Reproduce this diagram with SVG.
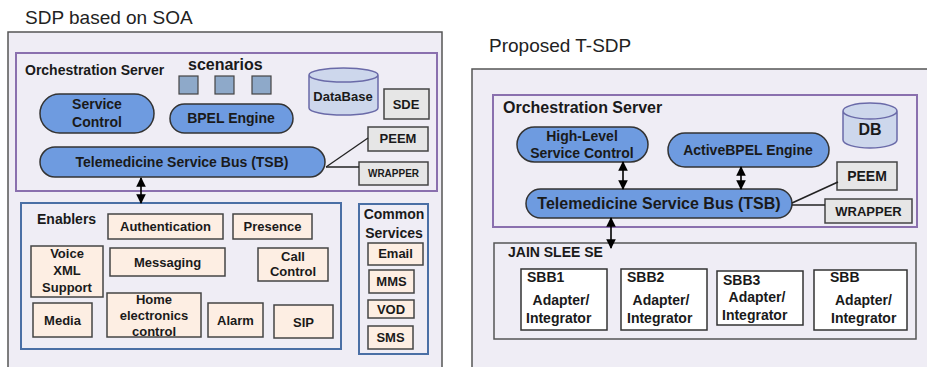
<svg xmlns="http://www.w3.org/2000/svg" width="927" height="367" viewBox="0 0 927 367">
<defs>
<marker id="ah" viewBox="0 0 10 10" refX="9" refY="5" markerWidth="6" markerHeight="6" orient="auto-start-reverse" markerUnits="strokeWidth">
<path d="M0,0 L10,5 L0,10 z" fill="#000"/>
</marker>
<style>
text{font-family:"Liberation Sans",Arial,sans-serif;fill:#1a1a1a}
.b{font-weight:bold}
.t{font-size:19px;fill:#222}
.f13{font-size:13px}
.f14{font-size:14px}
.f16{font-size:16px}
.f10{font-size:10px}
.m{text-anchor:middle}
.outer{fill:#efedf5;stroke:#555;stroke-width:1.5}
.orch{fill:none;stroke:#8a70ae;stroke-width:2}
.pill{fill:#6e9be0;stroke:#333;stroke-width:1.5}
.sq{fill:#8ea9c9;stroke:#444;stroke-width:1.2}
.cyl{fill:#cdd7ec;stroke:#6a6aa8;stroke-width:1.5}
.gray{fill:#e6e6e6;stroke:#444;stroke-width:1.5}
.blue{fill:none;stroke:#4a6fa5;stroke-width:2}
.peach{fill:#fdeee3;stroke:#444;stroke-width:1.5}
.white{fill:#fff;stroke:#333;stroke-width:1.5}
.jain{fill:none;stroke:#555;stroke-width:1.5}
.ln{stroke:#222;stroke-width:1.3;fill:none}
.arr{stroke:#000;stroke-width:1.6;fill:none;marker-start:url(#ah);marker-end:url(#ah)}
</style>
</defs>
<rect width="927" height="367" fill="#fff"/>

<!-- LEFT PANEL -->
<text class="t" x="25" y="24">SDP based on SOA</text>
<g id="left-panel">
<rect class="outer" x="8" y="32" width="434" height="345"/>
</g>
<g id="orch-left">
<rect class="orch" x="16" y="53" width="421" height="138"/>
<text class="b f14" x="25" y="75">Orchestration Server</text>
</g>
<g id="scenarios">
<text class="b f16" x="188" y="70">scenarios</text>
<rect class="sq" x="179" y="76" width="19" height="18"/>
<rect class="sq" x="215" y="76" width="19" height="18"/>
<rect class="sq" x="252" y="76" width="19" height="18"/>
</g>
<g id="service-control">
<rect class="pill" x="40" y="94" width="114" height="39" rx="19.5"/>
<text class="b f14 m" x="97" y="109">Service</text>
<text class="b f14 m" x="97" y="127">Control</text>
</g>
<g id="bpel-engine">
<rect class="pill" x="170" y="104" width="123" height="29" rx="14.5"/>
<text class="b f14 m" x="231" y="123">BPEL Engine</text>
</g>
<g id="database">
<path class="cyl" d="M309,75 L309,108 A34.5,7 0 0 0 378,108 L378,75 A34.5,7 0 0 0 309,75 A34.5,7 0 0 0 378,75"/>
<text class="b f13 m" x="343" y="101">DataBase</text>
</g>
<g id="sde">
<rect class="gray" x="384" y="89" width="45" height="30"/>
<text class="b f13 m" x="406" y="109">SDE</text>
</g>
<g id="peem-left">
<rect class="gray" x="368" y="127" width="60" height="24"/>
<text class="b f13 m" x="398" y="143">PEEM</text>
</g>
<g id="wrapper-left">
<rect class="gray" x="359" y="162" width="69" height="23"/>
<text class="b f10 m" x="393.5" y="177">WRAPPER</text>
</g>
<g id="tsb-left">
<rect class="pill" x="40" y="147" width="285" height="30" rx="15"/>
<text class="b f14 m" x="182" y="167">Telemedicine Service Bus (TSB)</text>
</g>
<g id="enablers">
<rect class="blue" x="21" y="203" width="320" height="146"/>
<text class="b f14" x="37" y="224">Enablers</text>
</g>
<g id="authentication"><rect class="peach" x="108" y="214" width="115" height="25"/><text class="b f13 m" x="165.5" y="231">Authentication</text></g>
<g id="presence"><rect class="peach" x="233" y="214" width="79" height="25"/><text class="b f13 m" x="272.5" y="231">Presence</text></g>
<g id="voicexml"><rect class="peach" x="31" y="246" width="72" height="51"/>
<text class="b f13 m" x="67" y="258">Voice</text><text class="b f13 m" x="67" y="275">XML</text><text class="b f13 m" x="67" y="292">Support</text></g>
<g id="messaging"><rect class="peach" x="110" y="248" width="115" height="28"/><text class="b f13 m" x="167.5" y="267">Messaging</text></g>
<g id="callcontrol"><rect class="peach" x="258" y="248" width="70" height="33"/>
<text class="b f13 m" x="293" y="261">Call</text><text class="b f13 m" x="293" y="276">Control</text></g>
<g id="media"><rect class="peach" x="33" y="303" width="59" height="34"/><text class="b f13 m" x="62.5" y="325">Media</text></g>
<g id="home"><rect class="peach" x="107" y="293" width="94" height="44"/>
<text class="b f13 m" x="154" y="304">Home</text><text class="b f13 m" x="154" y="320">electronics</text><text class="b f13 m" x="154" y="336">control</text></g>
<g id="alarm"><rect class="peach" x="208" y="303" width="55" height="34"/><text class="b f13 m" x="235.5" y="325">Alarm</text></g>
<g id="sip"><rect class="peach" x="274" y="305" width="59" height="33"/><text class="b f13 m" x="303.5" y="327">SIP</text></g>
<g id="common-services">
<rect class="blue" x="359" y="204" width="69" height="150"/>
<text class="b f14 m" x="394" y="219">Common</text>
<text class="b f14 m" x="394" y="238">Services</text>
</g>
<g id="email"><rect class="peach" x="368" y="243" width="55" height="22"/><text class="b f13 m" x="395.5" y="258">Email</text></g>
<g id="mms"><rect class="peach" x="369" y="270" width="45" height="23"/><text class="b f13 m" x="391.5" y="286">MMS</text></g>
<g id="vod"><rect class="peach" x="368" y="300" width="46" height="18"/><text class="b f13 m" x="391" y="314">VOD</text></g>
<g id="sms"><rect class="peach" x="368" y="326" width="45" height="23"/><text class="b f13 m" x="390.5" y="342">SMS</text></g>

<!-- RIGHT PANEL -->
<text class="t" x="489" y="52">Proposed T-SDP</text>
<g id="right-panel">
<rect class="outer" x="472" y="69" width="470" height="310"/>
</g>
<g id="orch-right">
<rect class="orch" x="493" y="95" width="424" height="132"/>
<text class="b f16" x="503" y="113">Orchestration Server</text>
</g>
<g id="db">
<path class="cyl" d="M843,111 L843,140 A27,8 0 0 0 897,140 L897,111 A27,8 0 0 0 843,111 A27,8 0 0 0 897,111"/>
<text class="b f16 m" x="870" y="135">DB</text>
</g>
<g id="highlevel">
<rect class="pill" x="517" y="127" width="131" height="35" rx="17.5"/>
<text class="b f14 m" x="582" y="141">High-Level</text>
<text class="b f14 m" x="582" y="158">Service Control</text>
</g>
<g id="activebpel">
<rect class="pill" x="668" y="133" width="161" height="34" rx="17"/>
<text class="b f14 m" x="748" y="155">ActiveBPEL Engine</text>
</g>
<g id="peem-right">
<rect class="gray" x="837" y="162" width="60" height="28"/>
<text class="b f14 m" x="867" y="181">PEEM</text>
</g>
<g id="wrapper-right">
<rect class="gray" x="825" y="199" width="87" height="24"/>
<text class="b f13 m" x="868.5" y="216">WRAPPER</text>
</g>
<g id="tsb-right">
<rect class="pill" x="526" y="189" width="266" height="29" rx="14.5"/>
<text class="b f16 m" x="659" y="209">Telemedicine Service Bus (TSB)</text>
</g>
<g id="jain-slee">
<rect class="jain" x="494" y="243" width="422" height="96"/>
<text class="b f14" x="508" y="257">JAIN SLEE SE</text>
</g>
<g id="sbb1"><rect class="white" x="521" y="269" width="86" height="61"/>
<text class="b f14" x="527" y="282">SBB1</text><text class="b f14 m" x="561" y="305">Adapter/</text><text class="b f14" x="526" y="323">Integrator</text></g>
<g id="sbb2"><rect class="white" x="621" y="269" width="86" height="61"/>
<text class="b f14" x="627" y="282">SBB2</text><text class="b f14 m" x="661" y="305">Adapter/</text><text class="b f14" x="627" y="323">Integrator</text></g>
<g id="sbb3"><rect class="white" x="717" y="271" width="86" height="54"/>
<text class="b f14" x="723" y="285">SBB3</text><text class="b f14 m" x="757" y="302">Adapter/</text><text class="b f14" x="722" y="320">Integrator</text></g>
<g id="sbb"><rect class="white" x="814" y="270" width="93" height="60"/>
<text class="b f14" x="830" y="282">SBB</text><text class="b f14" x="835" y="305">Adapter/</text><text class="b f14" x="831" y="323">Integrator</text></g>

<!-- CONNECTORS -->
<g id="connectors">
<line class="ln" x1="326" y1="167" x2="368" y2="138"/>
<line class="ln" x1="326" y1="167" x2="359" y2="167"/>
<line class="arr" x1="141" y1="178" x2="141" y2="203"/>
<line class="ln" x1="792" y1="203" x2="838" y2="182" style="stroke-width:1.6"/>
<line class="ln" x1="792" y1="205" x2="825" y2="205" style="stroke-width:1.6"/>
<line class="arr" x1="623" y1="162" x2="623" y2="189"/>
<line class="arr" x1="741" y1="167" x2="741" y2="189"/>
<line class="arr" x1="611" y1="218" x2="611" y2="248"/>
</g>
</svg>
